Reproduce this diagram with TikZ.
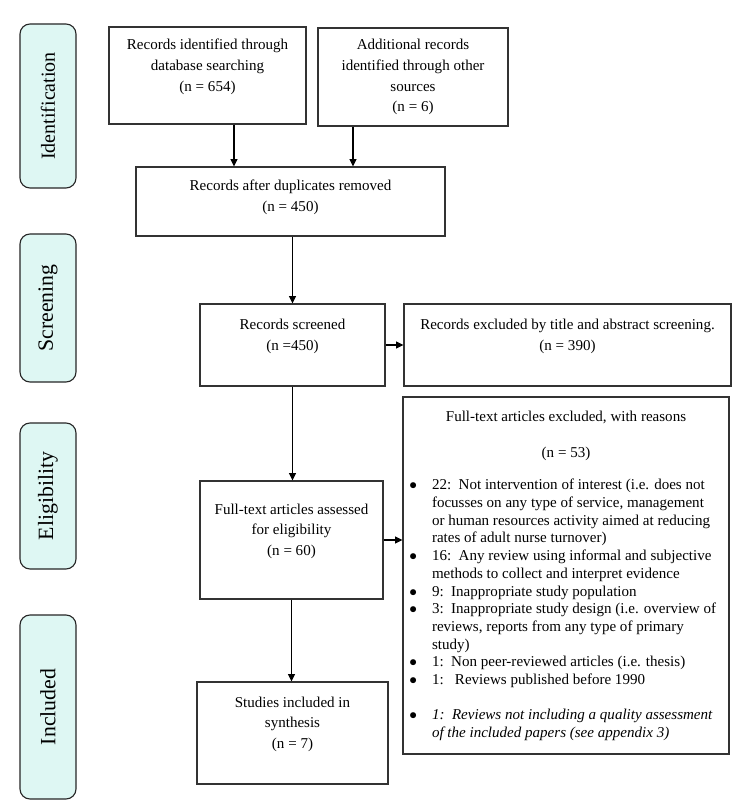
\documentclass[tikz,border=0pt]{standalone}
\usepackage{fontspec}
\setmainfont{Liberation Serif}
\usepackage{enumitem}
\usetikzlibrary{arrows.meta}
\definecolor{phasefill}{RGB}{222,247,243}
\begin{document}
\begin{tikzpicture}[
        box/.style={draw=black!80, line width=0.9pt, align=center, inner sep=0pt, font=\fontsize{10.7}{14.8}\selectfont},
        phase/.style={draw=black!85, line width=0.8pt, rounded corners=0.25cm, fill=phasefill, rotate=90, inner sep=0pt, minimum height=1.4cm, font=\fontsize{15.5}{18}\selectfont},
        arr/.style={-{Triangle[length=0.18cm,width=0.17cm]}, line width=0.8pt}
    ]
        \fill[white] (0,0) rectangle (18.7,-20.275);
        \useasboundingbox (0,0) rectangle (18.7,-20.275);
        \node[phase, minimum width=4.1cm, font=\fontsize{14.2}{17}\selectfont] (pid) at (1.2,-2.65) {Identification};
        \node[phase, minimum width=3.7cm] (psc) at (1.2,-7.7) {Screening};
        \node[phase, minimum width=3.65cm] (pel) at (1.2,-12.4) {Eligibility};
        \node[phase, minimum width=4.6cm] (pin) at (1.2,-17.675) {Included};
        \node[box, minimum width=4.925cm, minimum height=2.425cm] (ident) at (5.1875,-1.8875) {Records identified through\\ database searching\\ (n = 654)\\ \mbox{}};
        \node[box, minimum width=4.75cm, minimum height=2.45cm] (other) at (10.325,-1.925) {Additional records\\ identified through other\\ sources\\ (n = 6)};
        \node[box, minimum width=7.725cm, minimum height=1.725cm] (dup) at (7.2625,-5.0375) {Records after duplicates removed\\ (n = 450)\\[-6pt] \mbox{}};
        \node[box, minimum width=4.625cm, minimum height=2.05cm] (screened) at (7.3125,-8.625) {Records screened\\ (n =450)\\ \mbox{}};
        \node[box, minimum width=8.175cm, minimum height=2.05cm] (excl1) at (14.1875,-8.625) {Records excluded by title and abstract screening.\\ (n = 390)\\ \mbox{}};
        \node[box, minimum width=4.575cm, minimum height=2.95cm] (full) at (7.2875,-13.5) {Full-text articles assessed\\ for eligibility\\ (n = 60)\\ \mbox{}};
        \node[box, minimum width=4.775cm, minimum height=2.55cm] (incl) at (7.3125,-18.325) {Studies included in\\ synthesis\\ (n = 7)\\ \mbox{}};
        \node[box, align=none, inner xsep=0.1cm, text width=7.95cm, minimum height=8.925cm, font=\fontsize{10.7}{12.6}\selectfont] (excl2) at (14.15,-14.3875) {%
            \centering Full-text articles excluded, with reasons\\[13.6pt]
            (n = 53)\\[10.1pt]
            \raggedright
            \begin{itemize}[label=$\bullet$, leftmargin=0.625cm, labelwidth=0.25cm, labelsep=0.375cm, itemindent=0pt, topsep=0pt, partopsep=0pt, itemsep=0pt, parsep=0pt]
                \item 22:\ \ Not intervention of interest (i.e. does not\newline focusses on any type of service, management\newline or human resources activity aimed at reducing\newline rates of adult nurse turnover)
                \item 16:\ \ Any review using informal and subjective\newline methods to collect and interpret evidence
                \item 9:\ \ Inappropriate study population
                \item 3:\ \ Inappropriate study design (i.e. overview of\newline reviews, reports from any type of primary\newline study)
                \item 1:\ \ Non peer-reviewed articles (i.e. thesis)
                \item 1:\ \ \ Reviews published before 1990\\[12.2pt]
                \item \textit{1:\ \ Reviews not including a quality assessment\newline of the included papers (see appendix 3)}
            \end{itemize}};
        \draw[arr] ([xshift=0.6625cm]ident.south) -- ([xshift=0.6625cm]ident.south |- dup.north);
        \draw[arr] ([xshift=-1.5cm]other.south) -- ([xshift=-1.5cm]other.south |- dup.north);
        \draw[arr] (dup.south -| screened.north) -- (screened.north);
        \draw[arr] (screened.east) -- (excl1.west);
        \draw[arr] (screened.south) -- (screened.south |- full.north);
        \draw[arr] (full.east) -- (full.east -| excl2.west);
        \draw[arr] (full.south) -- (full.south |- incl.north);
    \end{tikzpicture}
\end{document}
